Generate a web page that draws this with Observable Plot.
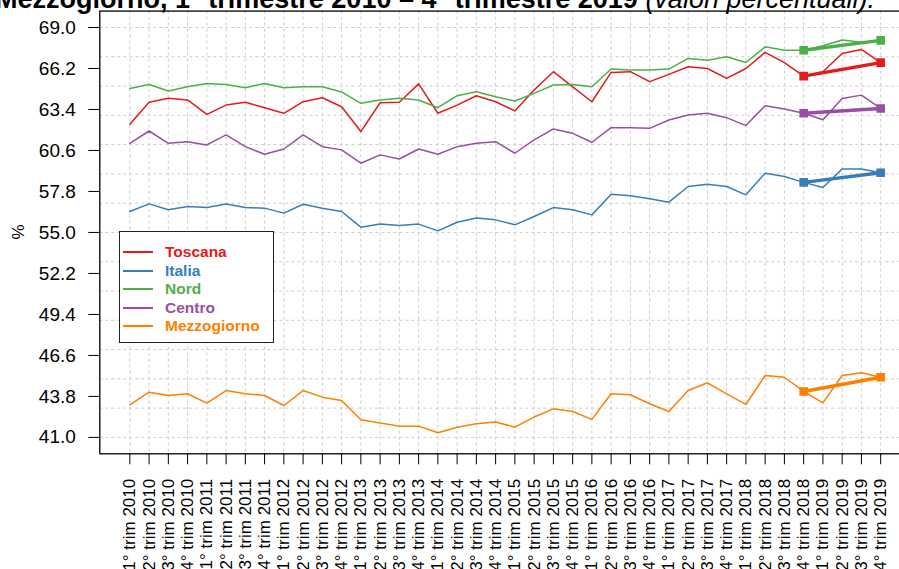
<!DOCTYPE html>
<html><head><meta charset="utf-8">
<script src="https://cdn.jsdelivr.net/npm/d3@7"></script>
<script src="https://cdn.jsdelivr.net/npm/@observablehq/plot@0.6"></script>
<style>
html,body{margin:0;padding:0;background:#fff;overflow:hidden;width:899px;height:569px;}
#wrap{position:relative;width:899px;height:569px;overflow:hidden;font-family:"Liberation Sans",Arial,sans-serif;}
#chart{position:absolute;left:0;top:0;}
#title{position:absolute;left:-5px;top:-14px;white-space:nowrap;font-size:27px;font-weight:bold;line-height:27px;color:#000;}
#title i{font-weight:normal;}
#ylab{position:absolute;left:19px;top:232px;transform:translate(-50%,-50%) rotate(-90deg);font-size:17px;color:#000;}
#legend{position:absolute;left:119px;top:231px;width:155px;height:112px;border:1.5px solid #222;background:#fff;box-sizing:border-box;}
.row{position:absolute;left:0;height:18px;width:150px;}
.row .ln{position:absolute;left:3px;top:8px;width:30px;height:0;border-top:2px solid;}
.row .tx{position:absolute;left:45px;top:0;font-size:15.5px;font-weight:bold;line-height:18px;}
</style></head>
<body><div id="wrap"><div id="chart"></div>
<div id="title">Mezzogiorno, 1° trimestre 2010 – 4° trimestre 2019 <i>(valori percentuali).</i></div>
<div id="ylab">%</div>
<div id="legend"></div>
</div>
<script>
const quarters = ["1° trim 2010","2° trim 2010","3° trim 2010","4° trim 2010","1° trim 2011","2° trim 2011","3° trim 2011","4° trim 2011","1° trim 2012","2° trim 2012","3° trim 2012","4° trim 2012","1° trim 2013","2° trim 2013","3° trim 2013","4° trim 2013","1° trim 2014","2° trim 2014","3° trim 2014","4° trim 2014","1° trim 2015","2° trim 2015","3° trim 2015","4° trim 2015","1° trim 2016","2° trim 2016","3° trim 2016","4° trim 2016","1° trim 2017","2° trim 2017","3° trim 2017","4° trim 2017","1° trim 2018","2° trim 2018","3° trim 2018","4° trim 2018","1° trim 2019","2° trim 2019","3° trim 2019","4° trim 2019"];
const seriesNames = ["Toscana","Italia","Nord","Centro","Mezzogiorno"];
const seriesColors = ["#E41A1C","#377EB8","#4DAF4A","#984EA3","#FF7F00"];
const toscana = [62.39,63.89,64.16,64.05,63.07,63.70,63.89,63.52,63.14,63.93,64.20,63.59,61.89,63.86,63.89,65.15,63.14,63.70,64.34,63.93,63.30,64.73,65.98,64.95,63.93,65.93,65.98,65.30,65.80,66.32,66.20,65.52,66.20,67.30,66.60,65.68,65.98,67.22,67.50,66.60];
const italia = [56.43,56.95,56.55,56.77,56.70,56.95,56.70,56.66,56.32,56.93,56.66,56.43,55.36,55.57,55.48,55.57,55.11,55.70,55.98,55.86,55.52,56.09,56.70,56.55,56.20,57.61,57.50,57.30,57.07,58.14,58.30,58.14,57.57,59.05,58.82,58.42,58.07,59.34,59.34,59.08];
const nord = [64.84,65.11,64.66,64.95,65.18,65.11,64.89,65.18,64.89,64.95,64.95,64.60,63.82,64.05,64.16,64.05,63.52,64.34,64.61,64.27,63.98,64.50,65.07,65.11,64.95,66.16,66.09,66.09,66.16,66.89,66.77,67.00,66.61,67.68,67.45,67.45,67.75,68.15,68.00,68.12];
const centro = [61.09,61.93,61.09,61.20,60.98,61.66,60.86,60.34,60.70,61.66,60.86,60.64,59.73,60.30,60.02,60.70,60.34,60.86,61.09,61.20,60.41,61.32,62.07,61.77,61.16,62.16,62.16,62.11,62.68,63.02,63.14,62.84,62.30,63.66,63.43,63.14,62.70,64.15,64.38,63.47];
const mezzogiorno = [43.23,44.09,43.86,43.98,43.34,44.20,43.98,43.86,43.18,44.20,43.75,43.52,42.20,41.98,41.77,41.77,41.32,41.70,41.93,42.05,41.70,42.39,42.95,42.77,42.23,43.98,43.91,43.30,42.77,44.20,44.73,43.98,43.25,45.23,45.11,44.14,43.36,45.23,45.41,45.11];
const yTicks = [41.0,43.8,46.6,49.4,52.2,55.0,57.8,60.6,63.4,66.2,69.0];
const gridY = [41,43,45,47,49,51,53,55,57,59,61,63,65,67,69];

const seriesValues = [toscana, italia, nord, centro, mezzogiorno];
const idx = quarters.map((q, i) => i);
const rows = [];
seriesNames.forEach((s, k) => seriesValues[k].forEach((v, i) => rows.push({serie: s, i, v})));
const startQ = quarters.indexOf("4° trim 2018"), endQ = quarters.indexOf("4° trim 2019");
const trend = [];
seriesNames.forEach((s, k) => { trend.push({serie: s, i: startQ, v: seriesValues[k][startQ]}); trend.push({serie: s, i: endQ, v: seriesValues[k][endQ]}); });

const plot = Plot.plot({
  width: 899, height: 569,
  marginLeft: 99.3, marginRight: -11.2, marginTop: 10.6, marginBottom: 115.7,
  x: {domain: [-1.56, 40.56], axis: null},
  y: {domain: [39.88, 70.12], axis: null},
  color: {domain: seriesNames, range: seriesColors},
  style: {fontFamily: "Liberation Sans, Arial, sans-serif", background: "transparent", color: "#000", overflow: "visible"},
  marks: [
    Plot.ruleY(gridY, {stroke: "#cccccc", strokeDasharray: "3,3", strokeWidth: 1}),
    Plot.ruleX(idx, {stroke: "#cccccc", strokeDasharray: "3,3", strokeWidth: 1}),
    Plot.line(rows, {x: "i", y: "v", z: "serie", stroke: "serie", strokeWidth: 1.5}),
    Plot.line(trend, {x: "i", y: "v", z: "serie", stroke: "serie", strokeWidth: 3.5}),
    Plot.dot(trend, {x: "i", y: "v", stroke: "serie", fill: "serie", symbol: "square", r: 4, strokeWidth: 1.5}),
    Plot.axisX({ticks: idx, tickFormat: i => quarters[i], tickRotate: -90, tickSize: 11, tickPadding: 14, fontSize: 17, label: null, anchor: "bottom"}),
    Plot.axisY({ticks: yTicks, tickFormat: d => d.toFixed(1), tickSize: 11, tickPadding: 13, fontSize: 19, label: null, anchor: "left"}),
    Plot.frame({stroke: "#000", strokeWidth: 1.3})
  ]
});
document.getElementById("chart").appendChild(plot);

const leg = document.getElementById("legend");
seriesNames.forEach((s, k) => {
  const r = document.createElement("div");
  r.className = "row";
  r.style.top = (11 + k * 18.5) + "px";
  r.innerHTML = `<div class="ln" style="border-color:${seriesColors[k]}"></div><div class="tx" style="color:${seriesColors[k]}">${s}</div>`;
  leg.appendChild(r);
});
</script>
</body></html>
